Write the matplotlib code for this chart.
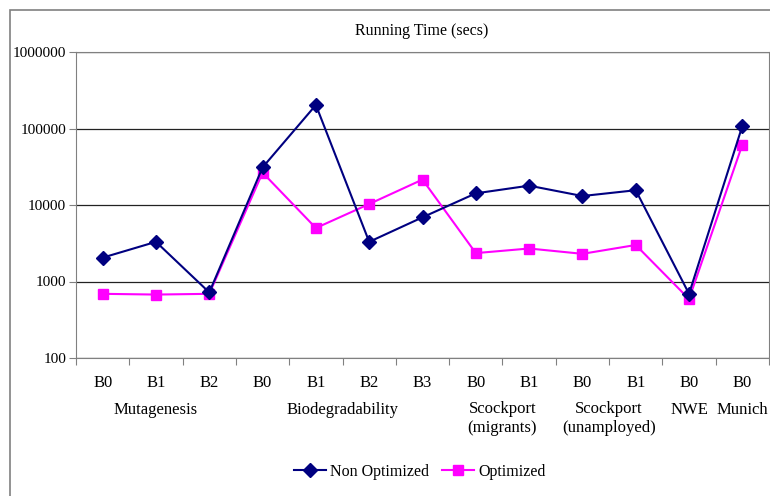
import numpy as np
import matplotlib
matplotlib.use("Agg")
import matplotlib.pyplot as plt
from matplotlib.patches import Rectangle

plt.rcParams['font.family'] = ['Liberation Serif', 'DejaVu Serif']

sub_labels = ["B0", "B1", "B2", "B0", "B1", "B2", "B3", "B0", "B1", "B0", "B1", "B0", "B0"]
groups = ["Mutagenesis", "Biodegradability", "Scockport\n(migrants)", "Scockport\n(unamployed)", "NWE", "Munich"]
group_sizes = [3, 4, 2, 2, 1, 1]

non_optimized = [2050, 3300, 720, 31000, 203000, 3300, 6900, 14200, 17900, 13100, 15600, 690, 108000]
optimized = [690, 675, 690, 26500, 5000, 10300, 21500, 2350, 2700, 2300, 3000, 590, 61500]

fig = plt.figure(figsize=(7.7, 4.96), dpi=100)
ax = fig.add_axes([76/770, 1-358/496, 693/770, 306/496])

x = np.arange(len(sub_labels))
ax.plot(x, non_optimized, color="#000080", marker="D", markersize=7, lw=1.5, label="Non Optimized", zorder=3)
ax.plot(x, optimized, color="#FF00FF", marker="s", markersize=7.5, lw=1.5, label="Optimized", zorder=2)

ax.set_yscale("log")
ax.set_ylim(100, 1000000)
yt = [100, 1000, 10000, 100000, 1000000]
ax.set_yticks(yt)
ax.set_yticklabels([str(v) for v in yt], fontsize=11)
ax.yaxis.set_minor_locator(matplotlib.ticker.NullLocator())
ax.grid(axis="y", color="#222222", lw=0.9)
ax.tick_params(axis="y", length=5, color="#808080", pad=2)

ax.set_xlim(-0.5, len(sub_labels) - 0.5)
ax.set_xticks(np.arange(len(sub_labels) + 1) - 0.5)
ax.set_xticklabels([])
ax.tick_params(axis="x", length=5, color="#808080")
for s in ax.spines.values():
    s.set_color("#808080")

tr = ax.get_xaxis_transform()
for i, lab in enumerate(sub_labels):
    ax.text(i, -25/306, lab, transform=tr, ha="center", va="center", fontsize=12)

start = 0
for g, n in zip(groups, group_sizes):
    c = start + (n - 1) / 2
    yc = -60.5/306 if "\n" in g else -52/306
    ax.text(c, yc, g, transform=tr, ha="center", va="center", fontsize=12, linespacing=1.3)
    start += n

fig.text(422/770, 1-31/496, "Running Time (secs)", ha="center", va="center", fontsize=11.5)

fig.legend(loc="center", bbox_to_anchor=(420/770, 1-472/496), ncol=2, frameon=False,
           fontsize=11.5, handlelength=2.0, columnspacing=0.8, handletextpad=0.25)

fig.patches.append(Rectangle((10/770, -0.05), 1.2, 1 - 10/496 + 0.05, transform=fig.transFigure,
                             fill=False, edgecolor="#808080", lw=1.2))

fig.savefig("out.png", dpi=100)
